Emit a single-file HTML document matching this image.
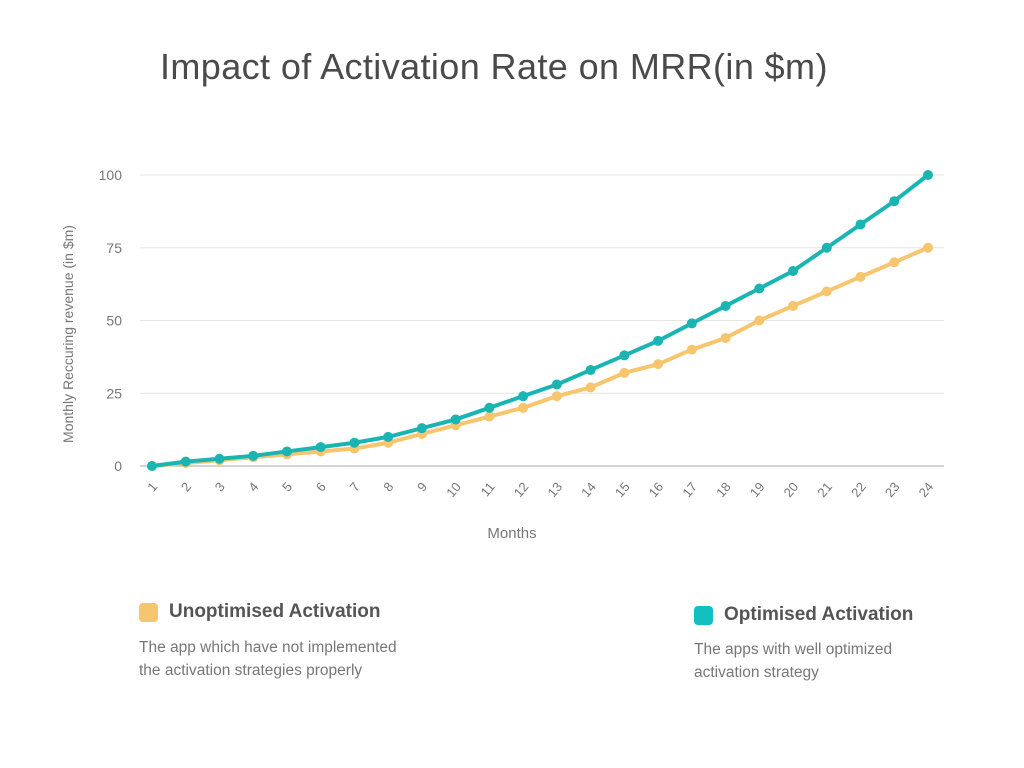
<!DOCTYPE html>
<html><head><meta charset="utf-8"><style>
body{margin:0;width:1024px;height:768px;background:#fff;font-family:"Liberation Sans",sans-serif;overflow:hidden;position:relative}
.t{position:absolute;color:#555}
</style></head><body>
<div class="t" style="left:160px;top:46px;font-size:36px;color:#4a4a4a;letter-spacing:0.4px">Impact of Activation Rate on MRR(in $m)</div>
<svg id="chart" width="1024" height="560" style="position:absolute;left:0;top:0"></svg>
<div style="position:absolute;left:139px;top:603px;width:19px;height:19px;border-radius:4px;background:#f6c56e"></div>
<div class="t" style="left:169px;top:601px;font-size:19px;font-weight:bold;color:#555">Unoptimised Activation</div>
<div class="t" style="left:139px;top:636px;font-size:15.5px;line-height:23px;color:#777">The app which have not implemented<br>the activation strategies properly</div>
<div style="position:absolute;left:694px;top:606px;width:19px;height:19px;border-radius:4px;background:#13bfc0"></div>
<div class="t" style="left:724px;top:604px;font-size:19px;font-weight:bold;color:#555">Optimised Activation</div>
<div class="t" style="left:694px;top:638px;font-size:15.5px;line-height:23px;color:#777">The apps with well optimized<br>activation strategy</div>
<script>
const months=["1","2","3","4","5","6","7","8","9","10","11","12","13","14","15","16","17","18","19","20","21","22","23","24"];
const optimised=[0,1.5,2.5,3.5,5,6.5,8,10,13,16,20,24,28,33,38,43,49,55,61,67,75,83,91,100];
const unoptimised=[0,1,2,3,4,5,6,8,11,14,17,20,24,27,32,35,40,44,50,55,60,65,70,75];
const yTicks=[0,25,50,75,100];
const NS="http://www.w3.org/2000/svg";
const svg=document.getElementById('chart');
const x=i=>152+i*(928-152)/(months.length-1);
const y=v=>466-v*(466-175)/100;
function mk(t,a){const e=document.createElementNS(NS,t);for(const k in a)e.setAttribute(k,a[k]);svg.appendChild(e);return e;}
yTicks.forEach(v=>{
 const l=mk('line',{x1:140,x2:944,y1:y(v),y2:y(v),stroke:v===0?'#aaa':'#e6e6e6','stroke-width':1});
 
 
 const t=mk('text',{x:122,y:y(v)+5,'text-anchor':'end','font-size':14,fill:'#777','font-family':'Liberation Sans, sans-serif'});
 t.textContent=v;
 
 
});
months.forEach((m,i)=>{
 const t=mk('text',{x:x(i)+6,y:487,'text-anchor':'end','font-size':13,fill:'#777','font-family':'Liberation Sans, sans-serif',transform:`rotate(-50 ${x(i)+6} 487)`});
 t.textContent=m;
 
 
});
const yt=mk('text',{x:73,y:334,'text-anchor':'middle','font-size':14,fill:'#777','font-family':'Liberation Sans, sans-serif',transform:'rotate(-90 73 334)'});
yt.textContent='Monthly Reccuring revenue (in $m)';


const xt=mk('text',{x:512,y:538,'text-anchor':'middle','font-size':15,fill:'#777','font-family':'Liberation Sans, sans-serif'});
xt.textContent='Months';


function series(vals,color,name,w){
 const p=mk('polyline',{points:vals.map((v,i)=>x(i)+','+y(v)).join(' '),fill:'none',stroke:color,'stroke-width':w,'stroke-linejoin':'round'});
 
 
 vals.forEach((v,i)=>{
  const c=mk('circle',{cx:x(i),cy:y(v),r:5,fill:color});
  
  
 });
}
series(unoptimised,'#f6c56e','unoptimised',4);
series(optimised,'#1ab5b3','optimised',4);
</script>
</body></html>
